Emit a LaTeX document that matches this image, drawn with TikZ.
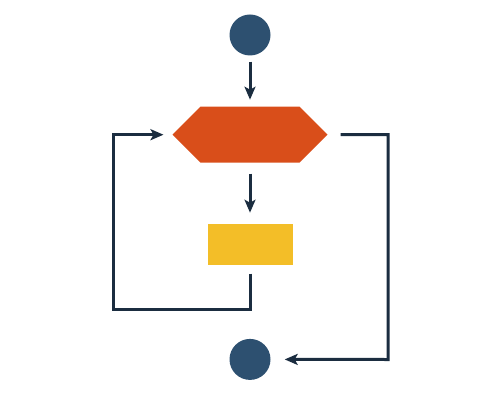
\documentclass[tikz,border=0pt]{standalone}
\usepackage{xcolor}
\usepackage{tikz}
\usetikzlibrary{arrows.meta,positioning,shapes.symbols}
\definecolor{cNavy}{HTML}{2D5070}
\definecolor{cInk}{HTML}{1B2D40}
\definecolor{cOrange}{HTML}{D94E1A}
\definecolor{cYellow}{HTML}{F3BE28}
\tikzset{
  term/.style={circle,fill=cNavy,minimum size=41pt,inner sep=0pt},
  decide/.style={signal,signal to=east and west,signal pointer angle=90,fill=cOrange,minimum width=155pt,minimum height=56pt,inner sep=0pt,outer sep=0pt},
  act/.style={rectangle,fill=cYellow,minimum width=85pt,minimum height=41pt,inner sep=0pt,outer sep=0pt},
  arr/.style={-{Stealth[length=13pt,width=11pt,inset=3pt]},line width=3pt,color=cInk},
}

\begin{document}
\begin{tikzpicture}[x=1pt,y=-1pt]
        \useasboundingbox (0,0) rectangle (500,406);
        \node[term] (start) at (250,35) {};
        \node[decide,below=51pt of start] (dec) {};
        \node[act,below=61pt of dec] (task) {};
        \node[term,below=74pt of task] (stop) {};
        \coordinate (loopL) at (113,309);
        \coordinate (loopR) at (388,359.5);
        \draw[arr,shorten <=6pt,shorten >=7pt] (start) -- (dec);
        \draw[arr,shorten <=11pt,shorten >=11pt] (dec) -- (task);
        \draw[arr,shorten <=9pt,shorten >=9pt] (task.south) |- (loopL) |- (dec.west);
        \draw[arr,shorten <=13pt,shorten >=14pt] (dec.east) -| (loopR) -- (stop.east);
      \end{tikzpicture}
\end{document}
